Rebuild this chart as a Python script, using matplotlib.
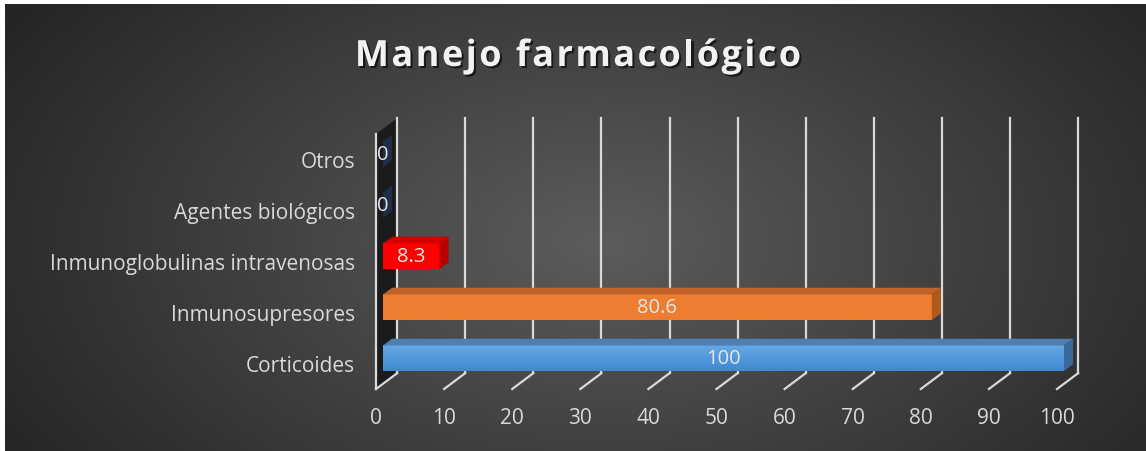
import matplotlib.pyplot as plt
import matplotlib.patheffects as pe
from matplotlib.patches import Polygon
from matplotlib.colors import to_rgb
import numpy as np

# datos
categorias = ['Corticoides', 'Inmunosupresores', 'Inmunoglobulinas intravenosas',
              'Agentes biológicos', 'Otros']
valores = [100, 80.6, 8.3, 0, 0]
etiquetas = ['100', '80.6', '8.3', '0', '0']
ticks_x = [0, 10, 20, 30, 40, 50, 60, 70, 80, 90, 100]
titulo = 'Manejo farmacológico'

# colores de cada barra: frente (arriba, abajo), tapa, lado
col_frente = [('#66a8e6', '#4089d0'), ('#ed7d31', '#ed7d31'), ('#ff0000', '#ff0000'),
              ('#1f3a5c', '#1f3a5c'), ('#1f3a5c', '#1f3a5c')]
col_tapa = ['#4f7fae', '#c0622a', '#d40000', '#22364f', '#22364f']
col_lado = ['#3b6a98', '#b1591d', '#b80000', '#1c2f47', '#1c2f47']

W, H = 1146, 452
fig = plt.figure(figsize=(W / 100, H / 100), dpi=100)
fig.patch.set_facecolor('white')

# fondo con degradado radial
bg = fig.add_axes([5 / W, 0, 1 - 5 / W, 1 - 5 / H])
bg.set_axis_off()
yy, xx = np.mgrid[0:H, 0:W]
r = np.sqrt(((xx - 600) / 700.0) ** 2 + ((yy - 240) / 420.0) ** 2)
r = np.clip(r, 0, 1)
c_in, c_out = 0x5c / 255, 0x25 / 255
img = c_in + (c_out - c_in) * r
bg.imshow(np.dstack([img, img, img]), aspect='auto', extent=[0, 1, 0, 1])
bg.set_xlim(0, 1)
bg.set_ylim(0, 1)

# ejes del plano frontal
ax = fig.add_axes([376 / W, (H - 390) / H, 681 / W, 255 / H])
ax.patch.set_visible(False)
ax.set_xlim(0, 100)
ax.set_ylim(-0.5, len(categorias) - 0.5)
for s in ax.spines.values():
    s.set_visible(False)

DX, DY = 3.1, 0.31          # profundidad de las paredes (en unidades de datos)
f0, f1 = 0.33, 0.76         # profundidad de las barras
h = 0.5
linea = '#d9d9d9'
ytop = len(categorias) - 0.5

# pared izquierda oscura
ax.add_patch(Polygon([(0, -0.5), (0, ytop), (DX, ytop + DY), (DX, -0.5 + DY)],
                     closed=True, facecolor='#1b1b1b', edgecolor='none',
                     clip_on=False, zorder=1))
ax.plot([0, 0], [-0.5, ytop], color=linea, lw=1.6, clip_on=False, zorder=2)

# cuadrícula del fondo y del piso
for t in ticks_x:
    ax.plot([t + DX, t + DX], [-0.5 + DY, ytop + DY], color=linea, lw=1.6,
            clip_on=False, zorder=2)
    ax.plot([t, t + DX], [-0.5, -0.5 + DY], color=linea, lw=1.6,
            clip_on=False, zorder=2)

# barras 3D
ddx, ddy = (f1 - f0) * DX, (f1 - f0) * DY
for i, v in enumerate(valores):
    x0 = f0 * DX
    y0 = i - h / 2 + f0 * DY
    top_c, bot_c = col_frente[i]
    if v > 0:
        grad = np.linspace(0, 1, 50)[:, None, None]
        c1 = np.array(to_rgb(top_c))[None, None, :]
        c2 = np.array(to_rgb(bot_c))[None, None, :]
        gimg = np.repeat(c1 * (1 - grad) + c2 * grad, 2, axis=1)
        ax.imshow(gimg, extent=[x0, x0 + v, y0, y0 + h], aspect='auto',
                  zorder=4, clip_on=False, interpolation='bilinear')
    ax.add_patch(Polygon([(x0, y0 + h), (x0 + v, y0 + h), (x0 + v + ddx, y0 + h + ddy),
                          (x0 + ddx, y0 + h + ddy)], closed=True, facecolor=col_tapa[i],
                         edgecolor='none', clip_on=False, zorder=4))
    ax.add_patch(Polygon([(x0 + v, y0), (x0 + v, y0 + h), (x0 + v + ddx, y0 + h + ddy),
                          (x0 + v + ddx, y0 + ddy)], closed=True, facecolor=col_lado[i],
                         edgecolor='none', clip_on=False, zorder=4))
    ax.text(x0 + v / 2, y0 + h / 2, etiquetas[i], ha='center', va='center',
            color='#e6e6e6', fontsize=14.5, family='Open Sans', zorder=6)

ax.set_xlim(0, 100)
ax.set_ylim(-0.5, ytop)

# etiquetas de ejes
ax.set_yticks(range(len(categorias)), categorias)
ax.set_xticks(ticks_x, [str(t) for t in ticks_x])
ax.tick_params(axis='y', length=0, pad=15, colors='#d9d9d9', labelsize=15)
ax.tick_params(axis='x', length=0, pad=13, colors='#d9d9d9', labelsize=15)
for lab in ax.get_xticklabels() + ax.get_yticklabels():
    lab.set_family('Open Sans')

# título con espaciado entre letras
fp = dict(fontsize=26, fontweight='bold', family='Open Sans')
renderer = fig.canvas.get_renderer()


def ancho(s):
    t = fig.text(0, 0, s, **fp)
    w = t.get_window_extent(renderer).width
    t.remove()
    return w


w_bar = ancho('|')
pos = [ancho(titulo[:k] + '|') - w_bar if k else 0 for k in range(len(titulo))]
natural = ancho(titulo)
espacio = 2.4
total = natural + espacio * (len(titulo) - 1)
x_ini = 578 - total / 2
sombra = [pe.SimplePatchShadow(offset=(1.5, -1.5), shadow_rgbFace='black', alpha=0.6),
          pe.Normal()]
for k, ch in enumerate(titulo):
    if ch == ' ':
        continue
    fig.text((x_ini + pos[k] + espacio * k) / W, 1 - 67 / H, ch, ha='left',
             va='baseline', color='#f2f2f2', path_effects=sombra, **fp)

fig.savefig('out.png', dpi=100, facecolor=fig.get_facecolor())
